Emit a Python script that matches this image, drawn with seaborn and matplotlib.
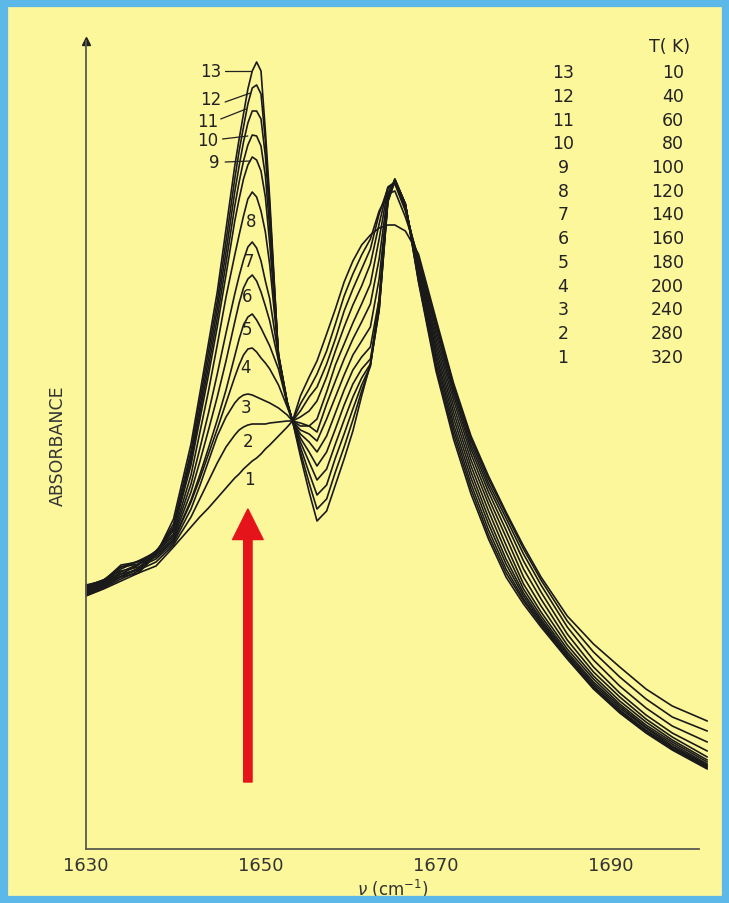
import matplotlib
matplotlib.use("Agg")
import matplotlib.pyplot as plt
import seaborn as sns
import pandas as pd
from matplotlib.patches import Rectangle

# ---------------- data ----------------
wavenumber = [1630, 1632, 1634, 1636, 1638, 1640, 1642, 1643, 1644, 1645, 1646, 1647,
              1647.5, 1648, 1648.5, 1649, 1649.5, 1650, 1650.5, 1651, 1652, 1653, 1653.6,
              1654.5, 1655.5, 1656.4, 1657.5, 1658.5, 1659.5, 1660.5, 1661.5, 1662.5,
              1663.5, 1664.5, 1665.3, 1666.5, 1668, 1670, 1672, 1674, 1676, 1678, 1680,
              1682, 1685, 1688, 1691, 1694, 1697, 1701]

# absorbance, arbitrary units (x1000)
abs_13 = [253, 260, 268, 276, 294, 330, 405, 455, 506, 557, 620, 683, 710, 735, 760, 778, 787, 778,
          718, 650, 490, 445, 428, 393, 357, 328, 338, 364, 390, 418, 453, 485, 550, 652, 670,
          645, 567, 478, 410, 355, 310, 272, 245, 222, 190, 160, 136, 116, 99, 80]
abs_12 = [254, 261, 270, 278, 296, 325, 398, 448, 498, 548, 608, 670, 698, 722, 745, 761, 764, 755,
          708, 642, 492, 445, 428, 397, 366, 340, 350, 377, 402, 429, 458, 483, 545, 652, 670,
          645, 568, 482, 415, 360, 314, 276, 248, 224, 191, 161, 137, 117, 100, 81]
abs_11 = [255, 262, 272, 280, 297, 322, 393, 441, 490, 540, 597, 657, 683, 707, 726, 738, 738, 730,
          693, 634, 493, 446, 428, 402, 376, 354, 364, 391, 415, 440, 464, 483, 540, 650, 669,
          645, 570, 486, 420, 365, 319, 280, 250, 226, 192, 162, 138, 118, 101, 82]
abs_10 = [256, 263, 273, 281, 297, 320, 389, 435, 482, 531, 586, 643, 667, 688, 704, 714, 713, 703,
          673, 620, 494, 446, 428, 407, 387, 369, 380, 405, 429, 452, 471, 485, 538, 648, 669,
          645, 572, 491, 425, 371, 325, 285, 253, 228, 193, 163, 139, 119, 102, 83]
abs_9 = [257, 264, 275, 284, 298, 318, 384, 429, 474, 522, 574, 628, 650, 670, 684, 692, 689, 678,
         652, 605, 495, 447, 428, 411, 397, 383, 397, 420, 444, 465, 480, 490, 540, 647, 668,
         644, 574, 495, 431, 377, 331, 290, 256, 230, 195, 165, 141, 121, 103, 84]
abs_8 = [258, 265, 277, 285, 298, 315, 374, 416, 458, 504, 552, 594, 614, 633, 650, 657, 652, 638,
         617, 584, 494, 447, 428, 415, 407, 397, 413, 436, 459, 479, 492, 502, 550, 648, 668,
         644, 576, 500, 437, 383, 338, 297, 260, 233, 197, 167, 143, 122, 105, 85]
abs_7 = [259, 266, 280, 288, 297, 313, 365, 400, 436, 475, 516, 555, 573, 589, 602, 607, 601, 588,
         568, 550, 492, 446, 428, 419, 415, 408, 430, 452, 474, 494, 508, 522, 570, 652, 668,
         643, 578, 505, 443, 389, 345, 304, 265, 237, 200, 170, 145, 124, 107, 87]
abs_6 = [260, 267, 282, 288, 295, 311, 357, 387, 419, 452, 488, 527, 546, 561, 570, 574, 568, 557,
         543, 528, 488, 446, 428, 423, 423, 417, 445, 468, 490, 510, 527, 545, 590, 656, 668,
         642, 580, 510, 449, 395, 351, 312, 272, 243, 204, 173, 148, 127, 109, 89]
abs_5 = [261, 268, 284, 287, 294, 309, 349, 374, 401, 429, 459, 493, 510, 524, 532, 535, 529, 521,
         512, 503, 480, 445, 428, 426, 423, 430, 457, 484, 505, 526, 545, 565, 610, 660, 667,
         641, 583, 515, 454, 400, 357, 319, 280, 250, 209, 177, 152, 130, 112, 92]
abs_4 = [262, 269, 282, 285, 292, 308, 347, 370, 395, 420, 446, 472, 484, 494, 500, 501, 497, 491,
         486, 480, 464, 442, 428, 432, 438, 448, 472, 498, 522, 544, 563, 585, 625, 662, 667,
         640, 586, 520, 458, 404, 362, 326, 288, 257, 215, 182, 156, 134, 116, 98]
abs_3 = [262, 269, 278, 282, 290, 306, 340, 363, 388, 413, 432, 446, 451, 454, 455, 454, 452, 450,
         448, 446, 441, 434, 428, 438, 452, 462, 485, 510, 538, 560, 580, 600, 635, 661, 665,
         638, 589, 524, 461, 408, 366, 331, 295, 264, 222, 189, 163, 141, 123, 107]
abs_2 = [263, 269, 275, 279, 287, 304, 332, 350, 368, 386, 402, 414, 419, 422, 424, 425, 425, 425,
         425, 426, 427, 428, 428, 445, 460, 475, 498, 525, 553, 575, 594, 610, 638, 655, 658,
         632, 592, 527, 464, 411, 370, 335, 300, 269, 228, 197, 172, 150, 132, 118]
abs_1 = [264, 268, 272, 276, 283, 302, 322, 332, 341, 351, 361, 371, 375, 380, 384, 388, 391, 395,
         400, 404, 413, 422, 428, 453, 472, 488, 515, 540, 567, 588, 604, 614, 621, 624, 624,
         618, 595, 530, 466, 413, 373, 337, 303, 272, 233, 205, 182, 160, 143, 128]

curve_ids = [13, 12, 11, 10, 9, 8, 7, 6, 5, 4, 3, 2, 1]
temperatures = [10, 40, 60, 80, 100, 120, 140, 160, 180, 200, 240, 280, 320]
series = [abs_13, abs_12, abs_11, abs_10, abs_9, abs_8, abs_7, abs_6, abs_5, abs_4, abs_3, abs_2, abs_1]

x_major = [1630, 1650, 1670, 1690]
x_minor = [1640, 1660, 1680, 1700]

# ---------------- build long table ----------------
rows = []
for cid, vals in zip(curve_ids, series):
    for nu, a in zip(wavenumber, vals):
        rows.append({"nu": nu, "A": a, "curve": str(cid)})
df = pd.DataFrame(rows)

# ---------------- styling ----------------
YELLOW = "#FDF79C"
BLUE = "#5BB8E9"
INK = "#1a1a1a"
AXC = "#5a5a50"

sns.set_theme(style="white")
plt.rcParams["font.family"] = ["DejaVu Sans"]

fig = plt.figure(figsize=(7.29, 9.04), dpi=100, facecolor=YELLOW)
ax = fig.add_axes([86 / 729, 54 / 904, (698.5 - 86) / 729, (850 - 42) / 904])
ax.set_facecolor(YELLOW)

sns.lineplot(data=df, x="nu", y="A", hue="curve", units="curve", estimator=None,
             palette=[INK] * len(curve_ids), hue_order=[str(c) for c in curve_ids],
             legend=False, linewidth=1.2, ax=ax, sort=True)
for ln in ax.lines:
    ln.set_clip_on(False)

ax.set_xlim(1630, 1700)
ax.set_ylim(0, 808)

# axes look
for s in ["top", "right"]:
    ax.spines[s].set_visible(False)
for s in ["left", "bottom"]:
    ax.spines[s].set_color(AXC)
    ax.spines[s].set_linewidth(1.3)

ax.set_xticks(x_major)
ax.set_xticklabels([str(v) for v in x_major], fontsize=13, color="#333333")
ax.set_xticks(x_minor, minor=True)
ax.tick_params(axis="x", which="both", direction="in", length=6, width=1.1,
               color=AXC, pad=5)
ax.set_yticks([333])
ax.set_yticklabels([])
ax.tick_params(axis="y", direction="in", length=5, width=1.1, color=AXC)

ax.set_xlabel(r"$\nu$ (cm$^{-1}$)", fontsize=12, color="#333333", labelpad=2)
ax.set_ylabel("ABSORBANCE", fontsize=12.5, color="#333333", labelpad=10)

# arrow head on y axis
ax.plot([0], [1], marker="^", color="#222222", markersize=6, transform=ax.transAxes,
        clip_on=False)

# ---------------- curve labels near the 1650 band ----------------
lab_kw = dict(fontsize=12, color="#222222", ha="center", va="center")
for txt, (lx, ly), (x0, y0, x1, y1) in [
        ("13", (1644.2, 778), (1645.9, 778, 1648.9, 778)),
        ("12", (1644.2, 750), (1645.9, 747, 1648.8, 756)),
        ("11", (1643.9, 728), (1645.4, 730, 1648.3, 740)),
        ("10", (1643.9, 709), (1645.6, 710, 1648.5, 713)),
        ("9", (1644.6, 687), (1645.9, 687, 1648.8, 688))]:
    ax.text(lx, ly, txt, **lab_kw)
    ax.plot([x0, x1], [y0, y1], color="#222222", lw=0.9)

for txt, lx, ly in [("8", 1648.9, 628), ("7", 1648.6, 588), ("6", 1648.4, 553),
                    ("5", 1648.4, 520), ("4", 1648.2, 482), ("3", 1648.3, 442),
                    ("2", 1648.5, 408), ("1", 1648.7, 370)]:
    ax.text(lx, ly, txt, **lab_kw)

# ---------------- temperature table ----------------
fig.text(670 / 729, 1 - 47 / 904, "T( K)", fontsize=12.5, color="#222222",
         ha="center", va="center")
for i, (cid, t) in enumerate(zip(curve_ids, temperatures)):
    yy = 1 - (73 + i * 23.75) / 904
    fig.text(563 / 729, yy, str(cid), fontsize=12.5, color="#222222", ha="center", va="center")
    fig.text(684 / 729, yy, str(t), fontsize=12.5, color="#222222", ha="right", va="center")

# ---------------- red arrow ----------------
ax.annotate("", xy=(1648.5, 340), xytext=(1648.5, 67),
            arrowprops=dict(arrowstyle="simple,head_width=1.1,head_length=1.1,tail_width=0.3",
                            mutation_scale=20, color="#E5141A", shrinkA=0, shrinkB=0))

# ---------------- blue frame ----------------
fig.patches.append(Rectangle((0, 0), 1, 1, transform=fig.transFigure, fill=False,
                             edgecolor=BLUE, linewidth=11, zorder=10))

fig.savefig("out.png", dpi=100, facecolor=YELLOW)
